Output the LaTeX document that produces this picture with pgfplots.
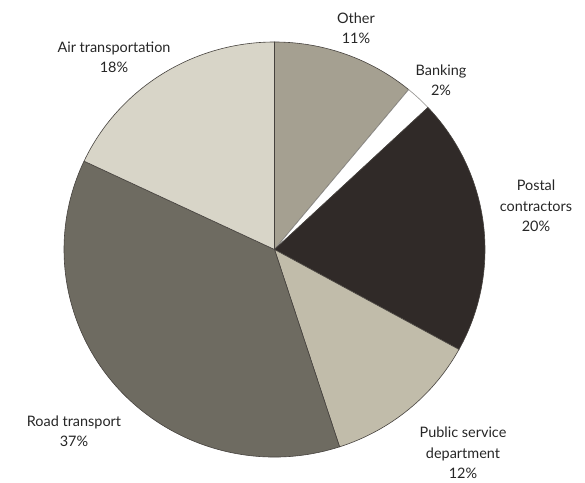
\documentclass[border=0pt]{standalone}
\usepackage{fontspec}
\setmainfont{Lato}
\usepackage{pgfplots}
\pgfplotsset{compat=1.18}
\definecolor{cOther}{RGB}{165,160,145}
\definecolor{cBank}{RGB}{255,255,255}
\definecolor{cPostal}{RGB}{48,42,40}
\definecolor{cPublic}{RGB}{193,188,170}
\definecolor{cRoad}{RGB}{110,107,97}
\definecolor{cAir}{RGB}{216,213,200}
\definecolor{edge}{RGB}{70,66,62}
\tikzset{
  lbl/.style={font=\fontsize{14.5}{20.5}\selectfont, align=center, inner sep=0pt, text=black!85},
  sl/.style={draw=edge, line width=0.6pt},
}
\begin{document}
\begin{tikzpicture}
\begin{axis}[
    x=1bp, y=1bp,
    xmin=0, xmax=585, ymin=0, ymax=482,
    scale only axis,
    hide axis,
    clip=false,
  ]
  % frame points so the box is the full picture
  \addplot[draw=none] coordinates {(0,0) (585,482)};

  % shares in percent, clockwise from the top: 11, 2, 20, 12, 37, 18
  \fill[cOther, sl] (axis cs:274.5,232.5) -- ++(90:210.5bp and 207.5bp)
    arc[start angle=90, end angle={90-3.6*11}, x radius=210.5bp, y radius=207.5bp] -- cycle;
  \fill[cBank, sl, draw=edge!60] (axis cs:274.5,232.5) -- ++({90-3.6*11}:210.5bp and 207.5bp)
    arc[start angle={90-3.6*11}, end angle={90-3.6*13}, x radius=210.5bp, y radius=207.5bp] -- cycle;
  \fill[cPostal, sl] (axis cs:274.5,232.5) -- ++({90-3.6*13}:210.5bp and 207.5bp)
    arc[start angle={90-3.6*13}, end angle={90-3.6*33}, x radius=210.5bp, y radius=207.5bp] -- cycle;
  \fill[cPublic, sl] (axis cs:274.5,232.5) -- ++({90-3.6*33}:210.5bp and 207.5bp)
    arc[start angle={90-3.6*33}, end angle={90-3.6*45}, x radius=210.5bp, y radius=207.5bp] -- cycle;
  \fill[cRoad, sl] (axis cs:274.5,232.5) -- ++({90-3.6*45}:210.5bp and 207.5bp)
    arc[start angle={90-3.6*45}, end angle={90-3.6*82}, x radius=210.5bp, y radius=207.5bp] -- cycle;
  \fill[cAir, sl] (axis cs:274.5,232.5) -- ++({90-3.6*82}:210.5bp and 207.5bp)
    arc[start angle={90-3.6*82}, end angle={90-3.6*100}, x radius=210.5bp, y radius=207.5bp] -- cycle;

  \node[lbl] at (axis cs:356,454) {Other\\11\%};
  \node[lbl] at (axis cs:441,402) {Banking\\2\%};
  \node[lbl] at (axis cs:536,276) {Postal\\contractors\\20\%};
  \node[lbl] at (axis cs:463,29) {Public service\\department\\12\%};
  \node[lbl] at (axis cs:74,51) {Road transport\\37\%};
  \node[lbl] at (axis cs:114,425) {Air transportation\\18\%};
\end{axis}
\end{tikzpicture}
\end{document}
